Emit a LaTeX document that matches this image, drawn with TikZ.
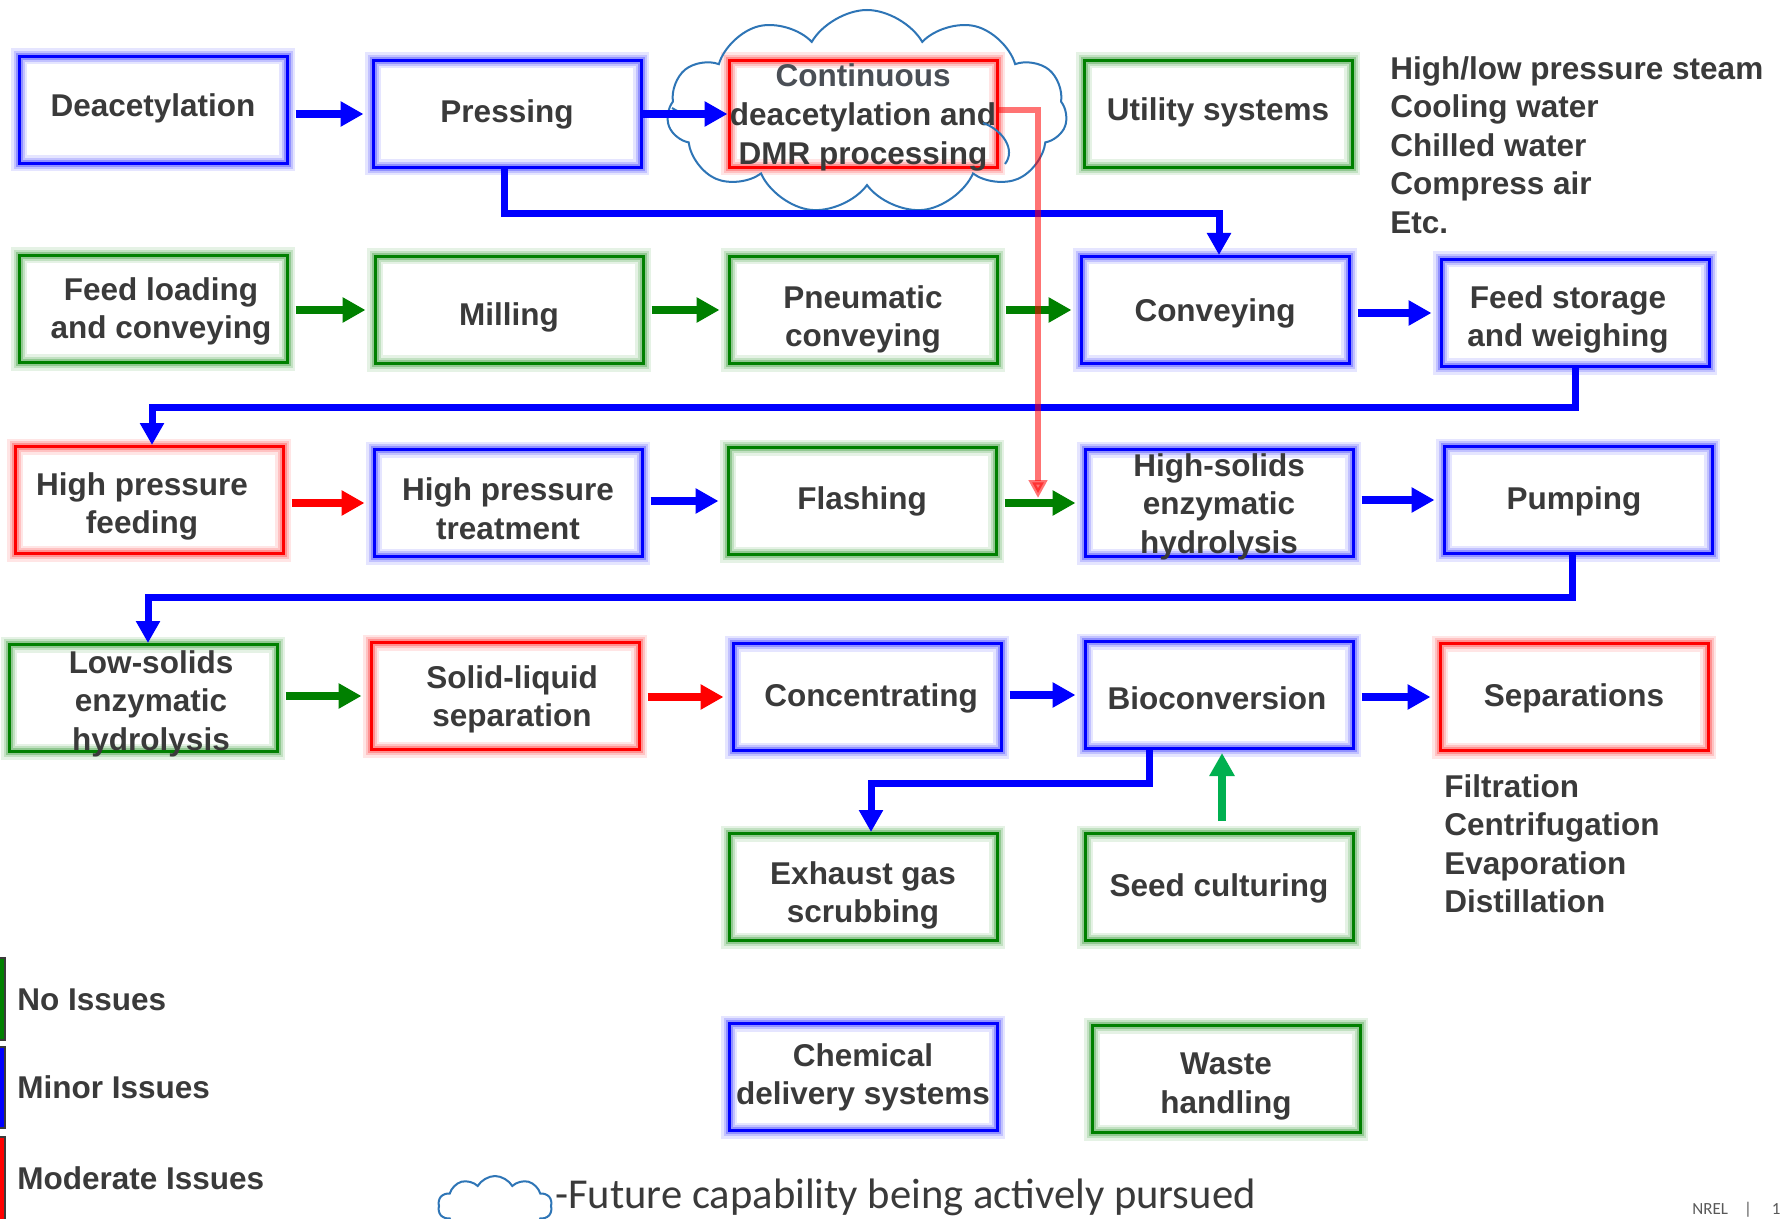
\documentclass[tikz,border=0pt]{standalone}
\usepackage{fontspec}
\setmainfont{Liberation Sans}
\newfontfamily\footfont{Carlito}
\usetikzlibrary{arrows.meta,calc,shapes.symbols}

\definecolor{txt}{HTML}{3A3A3A}
\definecolor{txtsoft}{HTML}{4A4F56}
\definecolor{okgreen}{HTML}{008000}
\definecolor{minorblue}{HTML}{0000FF}
\definecolor{modred}{HTML}{FF0000}
\definecolor{cloudblue}{HTML}{2E75B6}
\definecolor{seedgreen}{HTML}{00B050}
\definecolor{footgray}{HTML}{595959}

% process step: glowing frame plus its (slightly shifted) label
\newcommand\procbox[5]{%
  \node[pbox=#1] (#2) at (#3) {};
  \node[ptext] (#2-t) at ($(#2)+(#4)+(0,3.5)$) {#5};
}
% straight arrow between two neighbouring steps
\newcommand\flowarrow[3]{%
  \draw[flow=#1] ($(#2.east |- #3.west)+(7,0)$) -- ($(#3.west)+(-8,0)$);
}

\begin{document}
\begin{tikzpicture}[x=0.5pt,y=-0.5pt,
  pbox/.style={rectangle, draw=#1, line width=1.5pt,
    minimum width=134pt, minimum height=53.5pt, inner sep=0pt,
    preaction={draw=#1, draw opacity=0.10, line width=8pt},
    preaction={draw=#1, draw opacity=0.15, line width=5.5pt},
    preaction={draw=#1, draw opacity=0.25, line width=3.5pt}},
  ptext/.style={font=\bfseries\fontsize{15.75pt}{19.3pt}\selectfont,
    text=txt, align=center, inner sep=0pt},
  listtext/.style={font=\bfseries\fontsize{15.75pt}{19.25pt}\selectfont,
    text=txt, align=left, inner sep=0pt, anchor=north west},
  flow/.style={draw=#1, line width=4pt,
    -{Triangle[length=11.5pt,width=12pt]}},
  elbow/.style={draw=minorblue, line width=3.5pt,
    -{Triangle[length=11pt,width=11.5pt]}},
  redlink/.style={draw=modred, opacity=0.55, line width=3pt,
    -{Triangle[length=9pt,width=9pt]}},
  cloudline/.style={draw=cloudblue, line width=1pt},
  legbar/.style={rectangle, draw=txt, line width=1pt, inner sep=0pt,
    minimum width=6.5pt},
  legtext/.style={font=\bfseries\fontsize{15.75pt}{19pt}\selectfont,
    text=txt, inner sep=0pt, anchor=west}
]
\useasboundingbox (0,0) rectangle (1781,1219);
\fill[white] (0,0) rectangle (1781,1219);

% ---- process steps ----
\procbox{minorblue}{dea}{153,110}{0,-5}{Deacetylation}
\procbox{minorblue}{pre}{507,114}{0,-3}{Pressing}
\procbox{modred}{cont}{863,114}{0,0}{\color{txtsoft}Continuous\\deacetylation and\\DMR processing}
\procbox{okgreen}{util}{1218,114}{0,-5}{Utility systems}
\procbox{okgreen}{feed}{153,309}{8,-1}{Feed loading\\and conveying}
\procbox{okgreen}{mill}{509,310}{0,4}{Milling}
\procbox{okgreen}{pneu}{863,310}{0,6}{Pneumatic\\conveying}
\procbox{minorblue}{conv}{1215,310}{0,0}{Conveying}
\procbox{minorblue}{fsto}{1575,313}{-7,3}{Feed storage\\and weighing}
\procbox{modred}{hpf}{149,500}{-7,3}{High pressure\\feeding}
\procbox{minorblue}{hpt}{508,503}{0,2}{High pressure\\treatment}
\procbox{okgreen}{flash}{862,501}{0,-3}{Flashing}
\procbox{minorblue}{hs}{1219,503}{0,0}{High-solids\\enzymatic\\hydrolysis}
\procbox{minorblue}{pump}{1578,500}{-4,-2}{Pumping}
\procbox{okgreen}{ls}{143,698}{8,2}{Low-solids\\enzymatic\\hydrolysis}
\procbox{modred}{sl}{505,696}{7,0}{Solid-liquid\\separation}
\procbox{minorblue}{conc}{867,697}{4,-2}{Concentrating}
\procbox{minorblue}{bio}{1219,695}{-2,0}{Bioconversion}
\procbox{modred}{sep}{1574,697}{0,-2}{Separations}
\procbox{okgreen}{exh}{863,887}{0,5}{Exhaust gas\\scrubbing}
\procbox{okgreen}{seed}{1219,887}{0,-2}{Seed culturing}
\procbox{minorblue}{chem}{863,1077}{0,-3}{Chemical\\delivery systems}
\procbox{okgreen}{waste}{1226,1079}{0,4}{Waste\\handling}

% ---- side lists ----
\node[listtext] (utillist) at (1390,56)
  {High/low pressure steam\\Cooling water\\Chilled water\\Compress air\\Etc.};
\node[listtext] (seplist) at (1444,774)
  {Filtration\\Centrifugation\\Evaporation\\Distillation};

% ---- cloud around the continuous process ----
\node[cloud, cloud puffs=11, cloud puff arc=120, aspect=2,
  draw=cloudblue, line width=1pt, minimum width=200pt, minimum height=102pt]
  (fcloud) at (867,112) {};
\draw[cloudline] (983,123) .. controls (1003,130) and (1016,150) .. (1005,164);
\draw[cloudline] (672,108) .. controls (684,116) and (700,118) .. (714,116);

% ---- straight arrows ----
\flowarrow{minorblue}{dea}{pre}
\draw[flow=minorblue] (pre.east |- cont.west) -- (cont.west);
\flowarrow{okgreen}{feed}{mill}
\flowarrow{okgreen}{mill}{pneu}
\flowarrow{okgreen}{pneu}{conv}
\flowarrow{minorblue}{conv}{fsto}
\flowarrow{modred}{hpf}{hpt}
\flowarrow{minorblue}{hpt}{flash}
\flowarrow{okgreen}{flash}{hs}
\flowarrow{minorblue}{hs}{pump}
\flowarrow{okgreen}{ls}{sl}
\flowarrow{modred}{sl}{conc}
\flowarrow{minorblue}{conc}{bio}
\flowarrow{minorblue}{bio}{sep}
\draw[flow=seedgreen] ($(seed.north)+(3,-11)$) -- ($(bio.south)+(3,3)$);

% ---- routed connectors ----
\coordinate (lane1) at (0,214);
\coordinate (lane2) at (0,407);
\coordinate (lane3) at (0,597);
\coordinate (lane4) at (0,783);
\draw[elbow] ($(pre.south)+(-3,0)$) -- ($(pre.south |- lane1)+(-3,0)$) -| ($(conv.north)+(4,0)$);
\draw[elbow] (fsto.south) -- (fsto.south |- lane2) -| ($(hpf.north)+(3,0)$);
\draw[elbow] ($(pump.south)+(-6,0)$) -- ($(pump.south |- lane3)+(-6,0)$) -| ($(ls.north)+(5,0)$);
\draw[elbow] ($(bio.south)+(-70,0)$) -- ($(bio.south |- lane4)+(-70,0)$) -| ($(exh.north)+(8,0)$);

\coordinate (hsIn) at (1038,498);
\draw[redlink] ($(cont.east)+(0,-4)$) -| (hsIn);

% ---- legend ----
\node[legbar, fill=okgreen, minimum height=41pt] (lgG) at (-1.5,999) {};
\node[legbar, fill=minorblue, minimum height=40.5pt] (lgB) at (-1.5,1087.5) {};
\node[legbar, fill=modred, minimum height=43pt] (lgR) at (-1.5,1180) {};
\node[legtext] (lgGt) at (17,1000) {No Issues};
\node[legtext] (lgBt) at (17,1087) {Minor Issues};
\node[legtext] (lgRt) at (17,1178) {Moderate Issues};

\node[cloud, cloud puffs=10, cloud puff arc=120, aspect=2,
  draw=cloudblue, line width=1pt, minimum width=57pt, minimum height=30pt]
  (smallcloud) at (495,1206) {};
\node[font=\footfont\fontsize{21.3pt}{25pt}\selectfont, text=txt,
  inner sep=0pt, anchor=west] (futtext) at (555,1197)
  {-Future capability being actively pursued};

\node[font=\footfont\fontsize{8.5pt}{10pt}\selectfont, text=footgray,
  inner sep=0pt, anchor=west] (pagetag) at (1692,1210)
  {NREL\hspace{8pt}|\hspace{10pt}1};
\end{tikzpicture}
\end{document}
